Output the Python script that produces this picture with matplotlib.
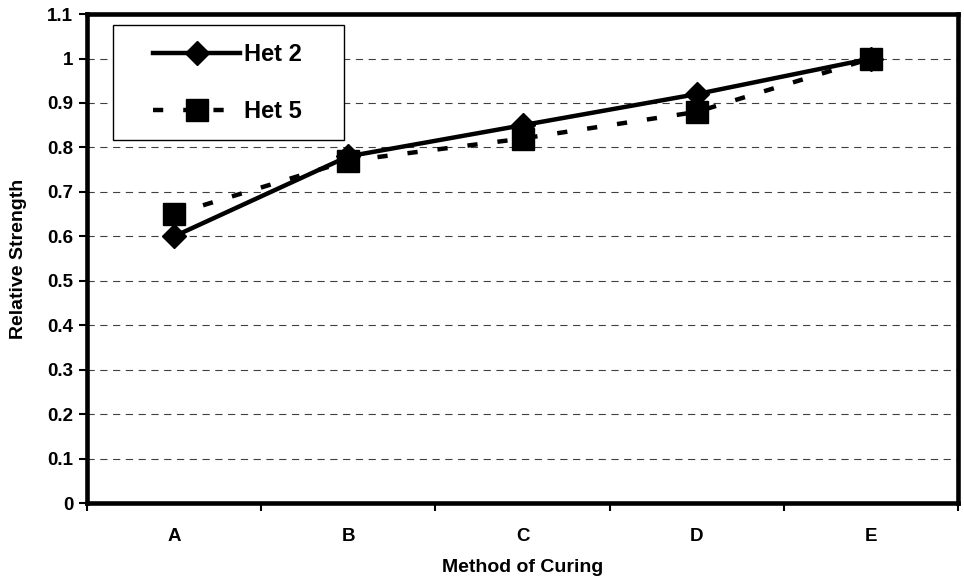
import numpy as np
import matplotlib
matplotlib.use("Agg")
import matplotlib.pyplot as plt
from matplotlib.patches import Rectangle
from matplotlib.ticker import FixedLocator, FuncFormatter

plt.rcParams['font.family'] = ['Liberation Sans', 'DejaVu Sans']
plt.rcParams['font.weight'] = 'bold'

# data
methods = ["A", "B", "C", "D", "E"]
het2 = [0.60, 0.78, 0.85, 0.92, 1.00]
het5 = [0.65, 0.77, 0.82, 0.88, 1.00]

fig = plt.figure(figsize=(9.64, 5.87), dpi=100)
ax = fig.add_axes([0.0903, 0.143, 0.9035, 0.833])

x = np.arange(len(methods))

ax.plot(x, het2, color="black", lw=3.2, marker="D", ms=12.5,
        label="Het 2", zorder=4)
ax.plot(x, het5, color="black", lw=3.2, dashes=(2.3, 4.5), marker="s", ms=16.5,
        label="Het 5", zorder=3)

ax.set_xlim(-0.5, len(methods) - 0.5)
ax.set_ylim(0, 1.1)

# ticks
ax.set_yticks(np.arange(0, 1.11, 0.1))
ax.yaxis.set_major_formatter(FuncFormatter(lambda v, p: ("%.1f" % v).rstrip("0").rstrip(".") if v else "0"))
ax.set_xticks(x)
ax.set_xticklabels(methods)
ax.xaxis.set_minor_locator(FixedLocator(np.arange(-0.5, len(methods), 1.0)))
ax.tick_params(axis="x", which="major", length=0, pad=18, labelsize=13.5)
ax.tick_params(axis="x", which="minor", length=6, width=1.5, direction="out")
ax.tick_params(axis="y", length=6, width=1.5, labelsize=13.5, pad=4)

ax.grid(axis="y", color="#404040", lw=0.8, linestyle=(0, (6.5, 5)))
ax.set_axisbelow(True)

for s in ax.spines.values():
    s.set_linewidth(3.3)

ax.set_ylabel("Relative Strength", fontsize=14, fontweight="bold")
ax.yaxis.set_label_coords(-0.069, 0.5)
ax.set_xlabel("Method of Curing", fontsize=14, fontweight="bold")
ax.xaxis.set_label_coords(0.5, -0.115)

# legend box (Excel style, fixed size)
box = Rectangle((113 / 964, 1 - 140 / 587), 231 / 964, 115 / 587,
                transform=fig.transFigure, facecolor="white",
                edgecolor="black", lw=1.0, zorder=4.5, clip_on=False)
ax.add_patch(box)

leg = ax.legend(loc="upper left", bbox_to_anchor=(153 / 964, 1 - 43 / 587),
                bbox_transform=fig.transFigure, fontsize=17, frameon=False,
                handlelength=3.7, handletextpad=0.17, labelspacing=1.45,
                borderpad=0, borderaxespad=0)
leg.set_zorder(5)
for t in leg.get_texts():
    t.set_fontweight("bold")

fig.savefig("out.png", dpi=100)
